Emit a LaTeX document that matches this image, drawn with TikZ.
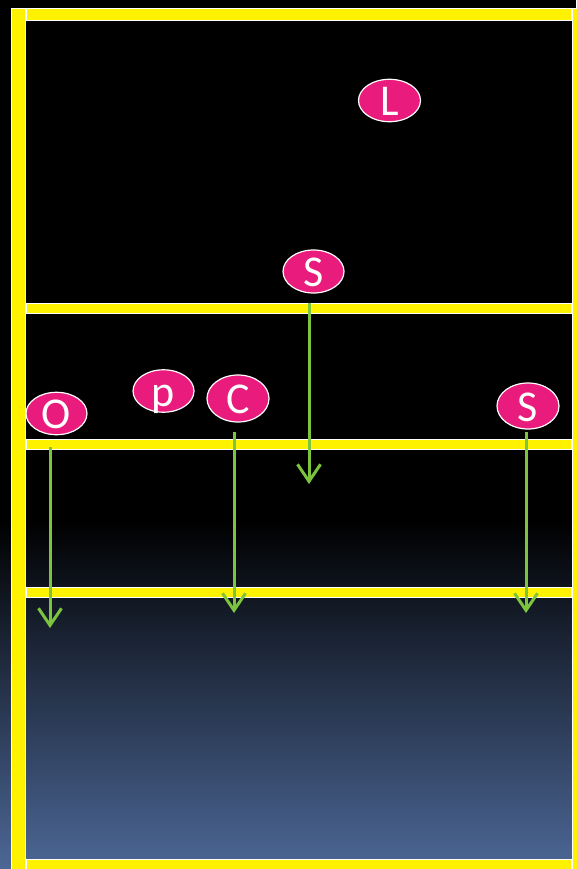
\documentclass[tikz,border=0pt]{standalone}
\usepackage{fontspec}
\setmainfont{Carlito}
\usetikzlibrary{arrows.meta,shapes.geometric}
\definecolor{pinkfill}{RGB}{233,27,124}
\definecolor{arrowgreen}{RGB}{124,196,62}
\definecolor{deepblue}{RGB}{76,103,150}
\tikzset{
  bar/.style={fill=yellow, draw=white, line width=0.8pt},
  tag/.style={ellipse, fill=pinkfill, draw=white, line width=1.2pt, inner sep=0pt,
    minimum width=62pt, minimum height=44pt, text=white,
    font=\fontsize{44}{44}\selectfont, text height=30pt, text depth=0pt},
  flow/.style={arrowgreen, line width=3pt,
    -{Straight Barb[length=17pt,width=23pt,line width=3pt]}}
}
\begin{document}
\begin{tikzpicture}[x=1pt,y=-1pt]
\useasboundingbox (0,0) rectangle (576,869);
% background
\fill[black] (0,0) rectangle (576,521);
\shade[top color=black, bottom color=deepblue] (0,520) rectangle (576,869);
% bars
\draw[bar] (11,8) rectangle (25,872);
\draw[bar] (572,8) rectangle (580,872);
\draw[bar] (26,8) rectangle (571,20);
\draw[bar] (26,303) rectangle (571,313);
\draw[bar] (26,439) rectangle (571,449);
\draw[bar] (26,587) rectangle (571,597);
\draw[bar] (26,859) rectangle (571,872);
% connector end points
\coordinate (s1a) at (309,303);
\coordinate (s1b) at (309,484);
\coordinate (oa) at (50,447);
\coordinate (ob) at (50,628);
\coordinate (ca) at (234,432);
\coordinate (cb) at (234,613);
\coordinate (s2a) at (526,432);
\coordinate (s2b) at (526,613);
% tags
\node[tag, minimum width=62pt, minimum height=40pt] (L) at (389.5,100.5) {L};
\node[tag, minimum width=61pt, minimum height=43pt] (S1) at (313.5,271.5) {S};
\node[tag, minimum width=61pt, minimum height=38pt] (O) at (56.5,413.5) {O};
\node[tag, minimum width=61pt, minimum height=39pt] (P) at (163.5,391) {p};
\node[tag, minimum width=62pt, minimum height=47pt] (C) at (238,398.5) {C};
\node[tag, minimum width=62pt, minimum height=46pt] (S2) at (528,406) {S};
% arrows
\draw[flow] (s1a) -- (s1b);
\draw[flow] (oa) -- (ob);
\draw[flow] (ca) -- (cb);
\draw[flow] (s2a) -- (s2b);
\end{tikzpicture}
\end{document}
